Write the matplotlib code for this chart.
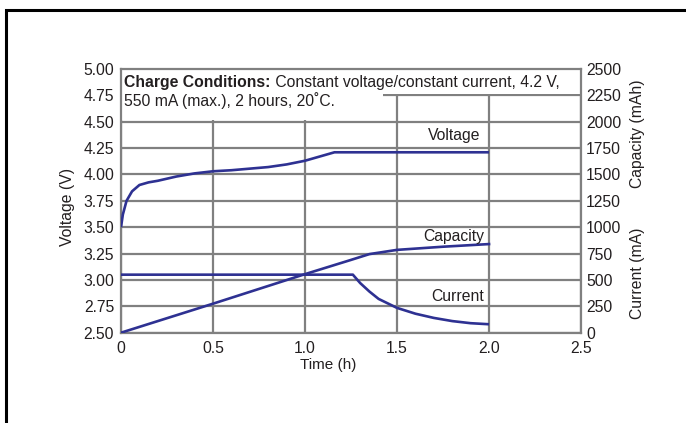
import matplotlib
matplotlib.use("Agg")
import matplotlib.pyplot as plt
from matplotlib.patches import Rectangle

plt.rcParams['font.family'] = ['Liberation Sans', 'DejaVu Sans']
plt.rcParams['font.size'] = 11.3

# charge curve data
volt_t = [0, 0.01, 0.03, 0.06, 0.1, 0.15, 0.2, 0.3, 0.4, 0.5, 0.6, 0.7, 0.8,
          0.9, 1.0, 1.1, 1.16, 2.0]
volt_v = [3.50, 3.62, 3.75, 3.84, 3.90, 3.925, 3.94, 3.98, 4.01, 4.03, 4.04,
          4.055, 4.07, 4.095, 4.13, 4.18, 4.21, 4.21]

cap_t = [0, 0.5, 1.0, 1.25, 1.35, 1.5, 1.75, 2.0]
cap_mah = [0, 275, 555, 690, 745, 785, 815, 840]

cur_t = [0, 1.26, 1.3, 1.35, 1.4, 1.5, 1.6, 1.7, 1.8, 1.9, 2.0]
cur_ma = [550, 550, 470, 390, 320, 235, 180, 140, 110, 90, 80]

x_ticks = [0, 0.5, 1.0, 1.5, 2.0, 2.5]
x_labels = ['0', '0.5', '1.0', '1.5', '2.0', '2.5']
v_ticks = [2.50, 2.75, 3.00, 3.25, 3.50, 3.75, 4.00, 4.25, 4.50, 4.75, 5.00]
ma_ticks = list(range(0, 2501, 250))

line_col = '#2e3192'
grid_col = '#808080'
txt_col = '#231f20'
fs = 11.3

fig = plt.figure(figsize=(6.86, 4.23), dpi=100)
ax = fig.add_axes([0.1764, 0.2135, 0.6706, 0.6235])
ax.set_xlim(0, 2.5)
ax.set_ylim(2.5, 5.0)
ax.set_xticks(x_ticks)
ax.set_xticklabels(x_labels)
ax.set_yticks(v_ticks)
ax.set_yticklabels([f'{v:.2f}' for v in v_ticks])
ax.grid(True, color=grid_col, linewidth=1.6)
ax.set_axisbelow(True)
ax.tick_params(length=0, labelsize=fs, colors=txt_col)
ax.tick_params(axis='y', pad=5)
ax.tick_params(axis='x', pad=6)
for s in ax.spines.values():
    s.set_color(grid_col)
    s.set_linewidth(1.6)

# white backing behind the conditions note
ax.add_patch(Rectangle((0, 0.905), 1, 0.095, transform=ax.transAxes,
                       facecolor='white', edgecolor='none', zorder=1))
ax.add_patch(Rectangle((0, 0.806), 0.57, 0.2, transform=ax.transAxes,
                       facecolor='white', edgecolor='none', zorder=1))

ax.plot(volt_t, volt_v, color=line_col, lw=1.9, zorder=3, solid_capstyle='butt')

ax.set_ylabel('Voltage (V)', fontsize=fs, color=txt_col)
ax.yaxis.set_label_coords(-0.1, 0.477)
ax.set_xlabel('Time (h)', fontsize=11, color=txt_col)
ax.xaxis.set_label_coords(0.45, -0.096)

ax2 = ax.twinx()
ax2.set_ylim(0, 2500)
ax2.set_yticks(ma_ticks)
ax2.tick_params(length=0, labelsize=fs, pad=3.5, colors=txt_col)
for s in ax2.spines.values():
    s.set_visible(False)
ax2.plot(cap_t, cap_mah, color=line_col, lw=1.9, zorder=3)
ax2.plot(cur_t, cur_ma, color=line_col, lw=1.9, zorder=3, solid_capstyle='butt')

ax2.text(1.122, 0.753, 'Capacity (mAh)', transform=ax2.transAxes, rotation=90,
         ha='center', va='center', fontsize=fs, color=txt_col)
ax2.text(1.122, 0.226, 'Current (mA)', transform=ax2.transAxes, rotation=90,
         ha='center', va='center', fontsize=fs, color=txt_col)

# curve labels
ax.text(1.81, 4.365, 'Voltage', ha='center', va='center', fontsize=fs, color=txt_col)
ax2.text(1.81, 910, 'Capacity', ha='center', va='center', fontsize=fs, color=txt_col)
ax2.text(1.83, 340, 'Current', ha='center', va='center', fontsize=fs, color=txt_col)

# conditions note
t1 = ax2.text(0.007, 0.977, 'Charge Conditions:', transform=ax2.transAxes,
              fontweight='bold', ha='left', va='top', fontsize=fs, color=txt_col)
ax2.annotate(' Constant voltage/constant current, 4.2 V,', xy=(1, 0),
             xycoords=t1, ha='left', va='bottom', fontsize=fs, color=txt_col)
ax2.text(0.007, 0.912, '550 mA (max.), 2 hours, 20˚C.', transform=ax2.transAxes,
         ha='left', va='top', fontsize=fs, color=txt_col)

# outer frame
fig.patches.append(Rectangle((0.0087, -0.5), 2, 1.476, transform=fig.transFigure,
                             facecolor='none', edgecolor='black', linewidth=2.2))

fig.savefig('out.png', dpi=100, facecolor='white')
